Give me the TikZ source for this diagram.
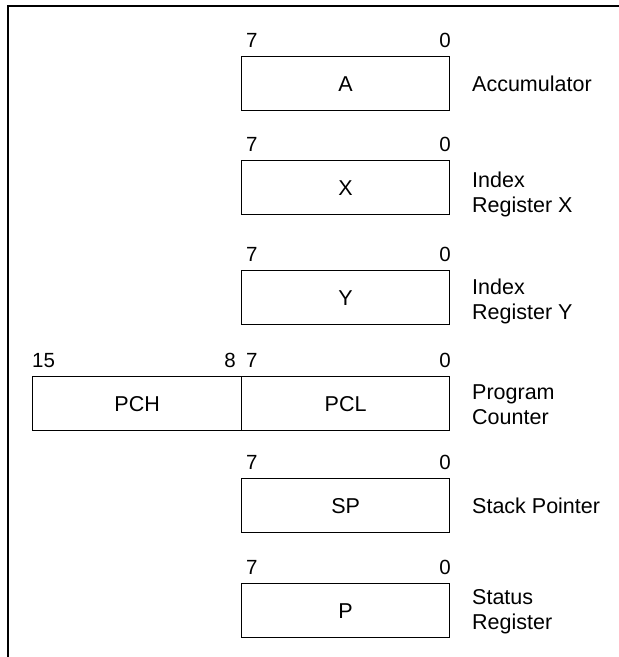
\documentclass[tikz,border=0pt]{standalone}
\usepackage{fontspec}
\setmainfont{Liberation Sans}
\begin{document}
\begin{tikzpicture}[x=1pt,y=-1pt,
  every node/.style={font=\fontsize{21.5}{25}\selectfont, inner sep=0pt},
  regbox/.style={draw, line width=1.3pt, minimum width=208pt, minimum height=54pt,
                 anchor=north west},
  msb/.style={anchor=base west, font=\fontsize{20.5}{24}\selectfont},
  lsb/.style={anchor=base east, font=\fontsize{20.5}{24}\selectfont},
  regname/.style={anchor=west, align=left}]
  \useasboundingbox (0,0) rectangle (619,657);

  % outer frame: top and left edges only
  \draw[line width=1.8pt] (8,657) -- (8,6) -- (619,6);

  % Accumulator
  \node[regbox] (A) at (241,56) {A};
  \node[msb] (A7) at (246,47) {7};
  \node[lsb] (A0) at (451,47) {0};
  \node[regname] (Alab) at (472,84) {Accumulator};

  % Index register X
  \node[regbox] (X) at (241,160) {X};
  \node[msb] (X7) at (246,151) {7};
  \node[lsb] (X0) at (451,151) {0};
  \node[regname] (Xlab) at (472,194) {Index\\Register X};

  % Index register Y
  \node[regbox] (Y) at (241,270) {Y};
  \node[msb] (Y7) at (246,261) {7};
  \node[lsb] (Y0) at (451,261) {0};
  \node[regname] (Ylab) at (472,301) {Index\\Register Y};

  % Program counter (high and low bytes)
  \node[regbox, minimum width=209pt] (PCH) at (32,376) {PCH};
  \node[regbox] (PCL) at (241,376) {PCL};
  \node[msb] (P15) at (32,367) {15};
  \node[lsb] (P8) at (236,367) {8};
  \node[msb] (P7) at (246,367) {7};
  \node[lsb] (P0) at (451,367) {0};
  \node[regname] (PClab) at (472,405) {Program\\Counter};

  % Stack pointer
  \node[regbox] (SP) at (241,478) {SP};
  \node[msb] (S7) at (246,469) {7};
  \node[lsb] (S0) at (451,469) {0};
  \node[regname] (SPlab) at (472,506) {Stack Pointer};

  % Status register
  \node[regbox] (P) at (241,583) {P};
  \node[msb] (St7) at (246,574) {7};
  \node[lsb] (St0) at (451,574) {0};
  \node[regname] (Plab) at (472,612) {Status\\Register};
\end{tikzpicture}
\end{document}
